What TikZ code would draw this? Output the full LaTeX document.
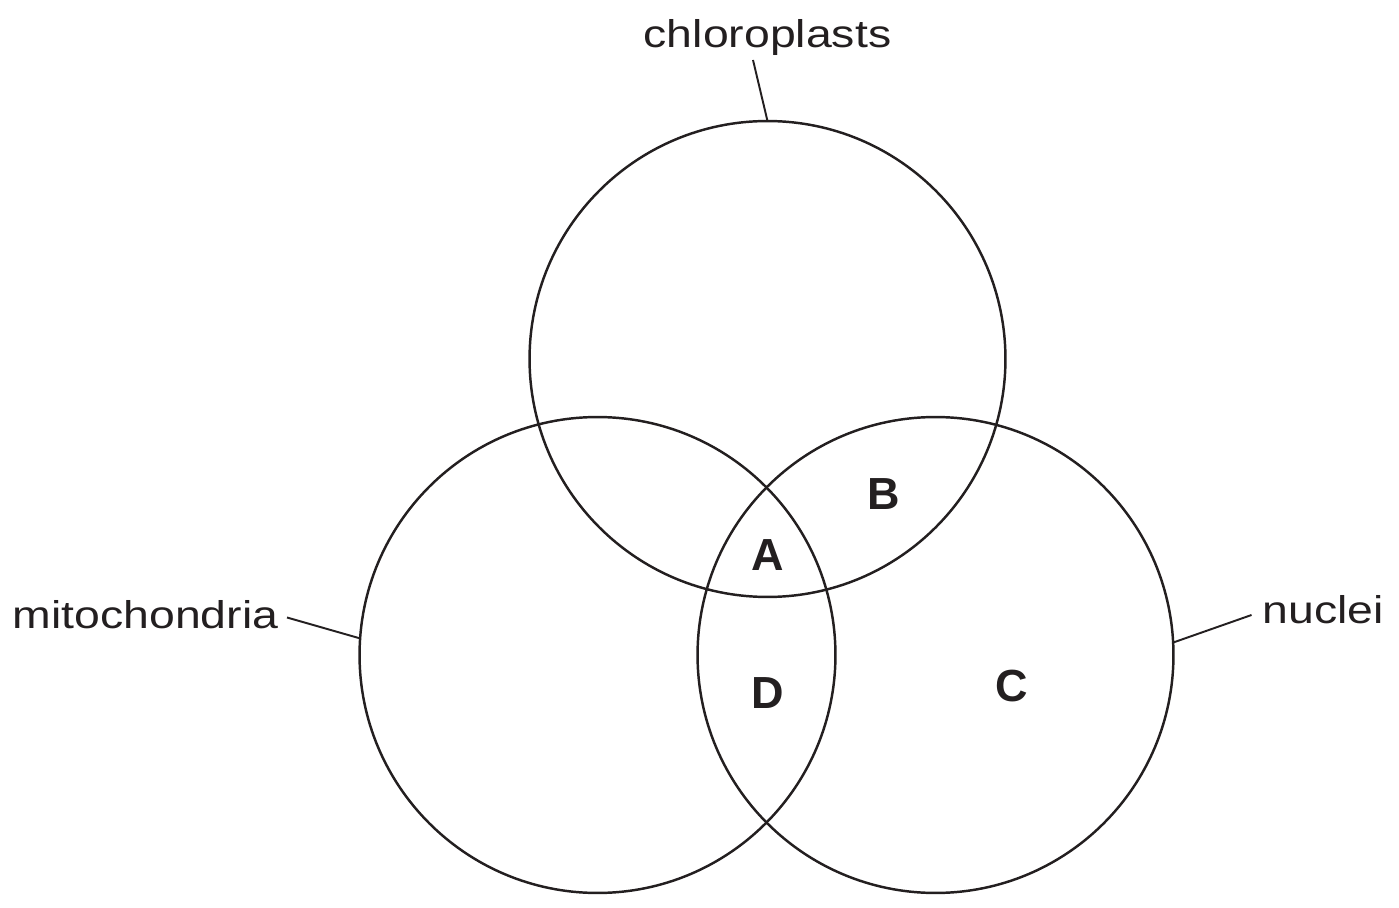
\documentclass[tikz,border=0pt]{standalone}
\usepackage{fontspec}
\setmainfont{Liberation Sans}
\newfontfamily\widesans{Liberation Sans}[FakeStretch=1.2]
\usetikzlibrary{positioning}
\definecolor{Ink}{HTML}{231F20}

\begin{document}
\begin{tikzpicture}[x=0.02cm,y=-0.02cm,
    ring/.style={draw=Ink,circle,line width=1.4pt,minimum size=9.52cm,inner sep=0pt,outer sep=0pt},
    setlabel/.style={anchor=base,inner sep=0pt,text=Ink,font=\widesans\fontsize{22}{26}\selectfont},
    region/.style={anchor=base,inner sep=0pt,text=Ink,font=\bfseries\fontsize{25.6}{30}\selectfont},
    lead/.style={draw=Ink,line width=1.1pt}]
    \useasboundingbox (0,0) rectangle (1399,908);
    % the three sets
    \node[ring] (chloro) at (767.5,359) {};
    \node[ring] (mito) at (597.5,655) {};
    \node[ring] (nucl) at (935.5,655) {};
    % set names
    \node[setlabel] (chlorotext) at (767.5,47.5) {chloroplasts};
    \node[setlabel] (mitotext) at (145.5,628) {mitochondria};
    \node[setlabel] (nucltext) at (1323,623) {nuclei};
    \coordinate (chloroend) at (753,60);
    \coordinate (mitoend) at (287,617.5);
    \coordinate (nuclend) at (1251.5,615);
    \draw[lead] (chloroend) -- (chloro.90);
    \draw[lead] (mitoend) -- (mito.176);
    \draw[lead] (nuclend) -- (nucl.3.8);
    % regions
    \node[region] (rega) at (768,570) {A};
    \node[region] (regb) at (883.5,509) {B};
    \node[region] (regc) at (1011.5,701) {C};
    \node[region] (regd) at (767.5,708) {D};
\end{tikzpicture}
\end{document}
